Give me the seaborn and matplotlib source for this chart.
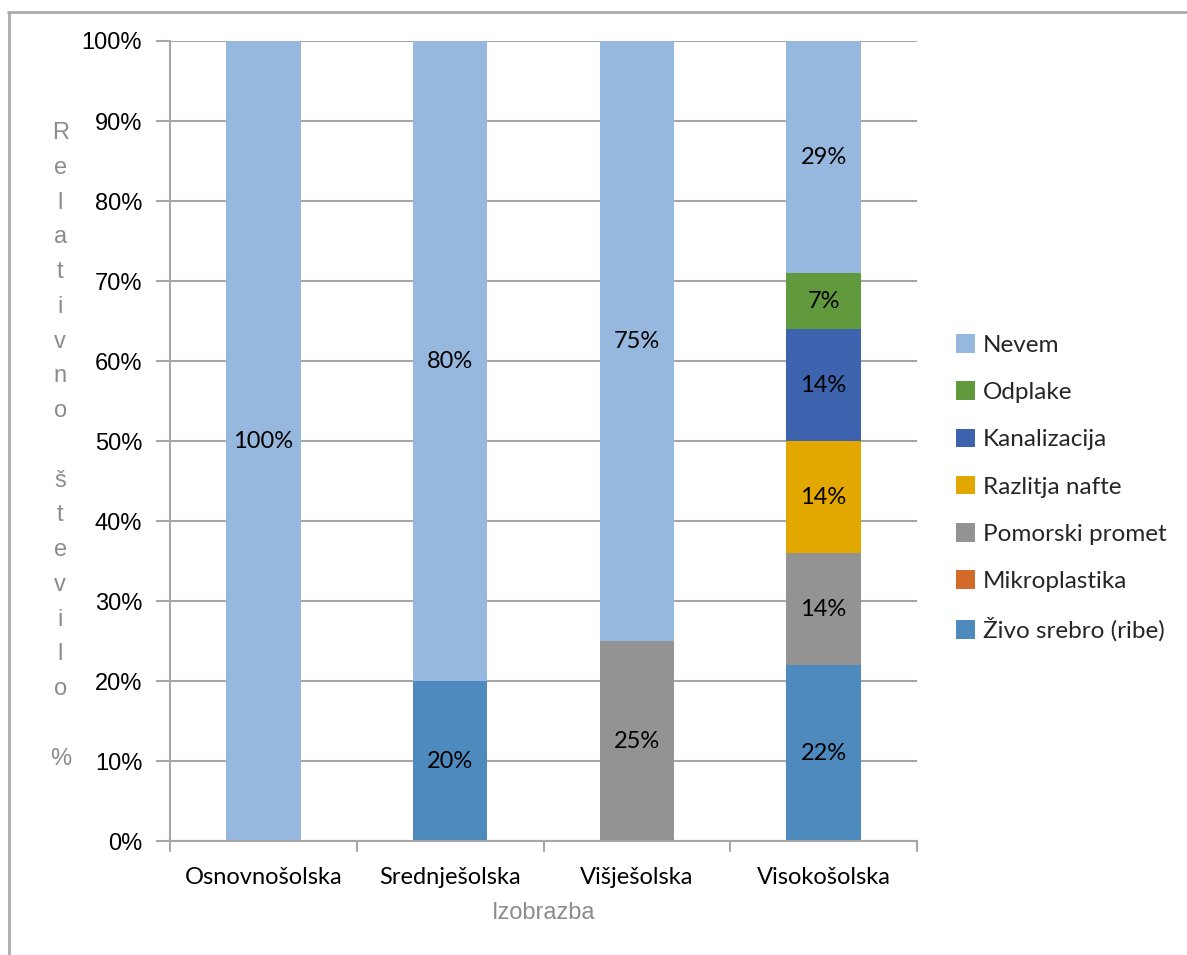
import matplotlib
matplotlib.use("Agg")
import matplotlib.pyplot as plt
from matplotlib.lines import Line2D
from matplotlib.patches import Patch
import seaborn as sns
import pandas as pd

# Education levels on the x axis
categories = ["Osnovnošolska", "Srednješolska", "Višješolska", "Visokošolska"]

# Share of answers per level (percent), stacked bottom to top
zivo_srebro = [0, 20, 0, 22]
mikroplastika = [0, 0, 0, 0]
pomorski_promet = [0, 0, 25, 14]
razlitja_nafte = [0, 0, 0, 14]
kanalizacija = [0, 0, 0, 14]
odplake = [0, 0, 0, 7]
nevem = [100, 80, 75, 29]

series_names = ["Živo srebro (ribe)", "Mikroplastika", "Pomorski promet",
                "Razlitja nafte", "Kanalizacija", "Odplake", "Nevem"]
series_values = [zivo_srebro, mikroplastika, pomorski_promet,
                 razlitja_nafte, kanalizacija, odplake, nevem]
series_colors = ["#4F8ABE", "#D36B2A", "#939393", "#E3A800",
                 "#3D63AE", "#619A3D", "#97B8DE"]

y_ticks = [0, 10, 20, 30, 40, 50, 60, 70, 80, 90, 100]

sns.set_theme(style="white")
plt.rcParams["font.family"] = ["Liberation Sans", "DejaVu Sans"]
label_font = ["Lato", "DejaVu Sans"]

fig = plt.figure(figsize=(11.87, 9.55), dpi=100)
ax = fig.add_axes([170 / 1187, 1 - 841 / 955, (917 - 170) / 1187, 800 / 955])

grid_color = "#A6A6A6"
for t in y_ticks:
    ax.axhline(t, color=grid_color, lw=1.5, zorder=0)

bottom = [0, 0, 0, 0]
for name, vals, col in zip(series_names, series_values, series_colors):
    df = pd.DataFrame({"level": categories, "value": vals})
    sns.barplot(data=df, x="level", y="value", bottom=bottom, color=col,
                width=0.4, saturation=1, ax=ax, zorder=2, linewidth=0)
    cont = ax.containers[-1]
    labels = [f"{v}%" if v > 0 else "" for v in vals]
    ax.bar_label(cont, labels=labels, label_type="center", fontsize=17,
                 family=label_font, color="black")
    bottom = [b + v for b, v in zip(bottom, vals)]

ax.set_xlim(-0.5, 3.5)
ax.set_ylim(0, 100)
ax.set_yticks(y_ticks)
ax.set_yticklabels([f"{t}%" for t in y_ticks], fontsize=17, color="black")
ax.set_xticks(range(len(categories)))
ax.set_xticklabels(categories, fontsize=17, family=label_font, color="black")
ax.tick_params(axis="x", length=0, pad=19)
ax.tick_params(axis="y", length=10, width=1.5, color=grid_color, pad=10, left=True)

# boundary ticks between categories on the x axis
for xb in [-0.5, 0.5, 1.5, 2.5, 3.5]:
    ax.add_line(Line2D([xb, xb], [0, -1.3], color=grid_color, lw=1.5,
                       clip_on=False, zorder=3))

for s in ["top", "right"]:
    ax.spines[s].set_visible(False)
for s in ["left", "bottom"]:
    ax.spines[s].set_color(grid_color)
    ax.spines[s].set_linewidth(1.5)

ax.set_xlabel("Izobrazba", fontsize=17, color="#8C8C8C", labelpad=10)
ax.set_ylabel("\n".join(list("Relativno število %")), rotation=0,
              fontsize=17, color="#8C8C8C", labelpad=70, va="center",
              linespacing=1.75)
ax.yaxis.set_label_coords(-0.147, 0.494)

handles = [Patch(facecolor=c, edgecolor="none") for c in series_colors]
leg = fig.legend(handles[::-1], series_names[::-1], loc="center left",
                 bbox_to_anchor=(934 / 1187, 1 - 488 / 955), frameon=False,
                 prop={"family": label_font, "size": 17.5},
                 handlelength=0.8, handleheight=0.8, handletextpad=0.3,
                 labelspacing=1.05)

# outer chart border
fig.add_artist(Line2D([8.5 / 1187, 8.5 / 1187], [0, 1 - 12 / 955],
                      color="#AAAAAA", lw=2, transform=fig.transFigure))
fig.add_artist(Line2D([8 / 1187, 1], [1 - 12 / 955, 1 - 12 / 955],
                      color="#AAAAAA", lw=2, transform=fig.transFigure))

fig.savefig("out.png", dpi=100, facecolor="white")
